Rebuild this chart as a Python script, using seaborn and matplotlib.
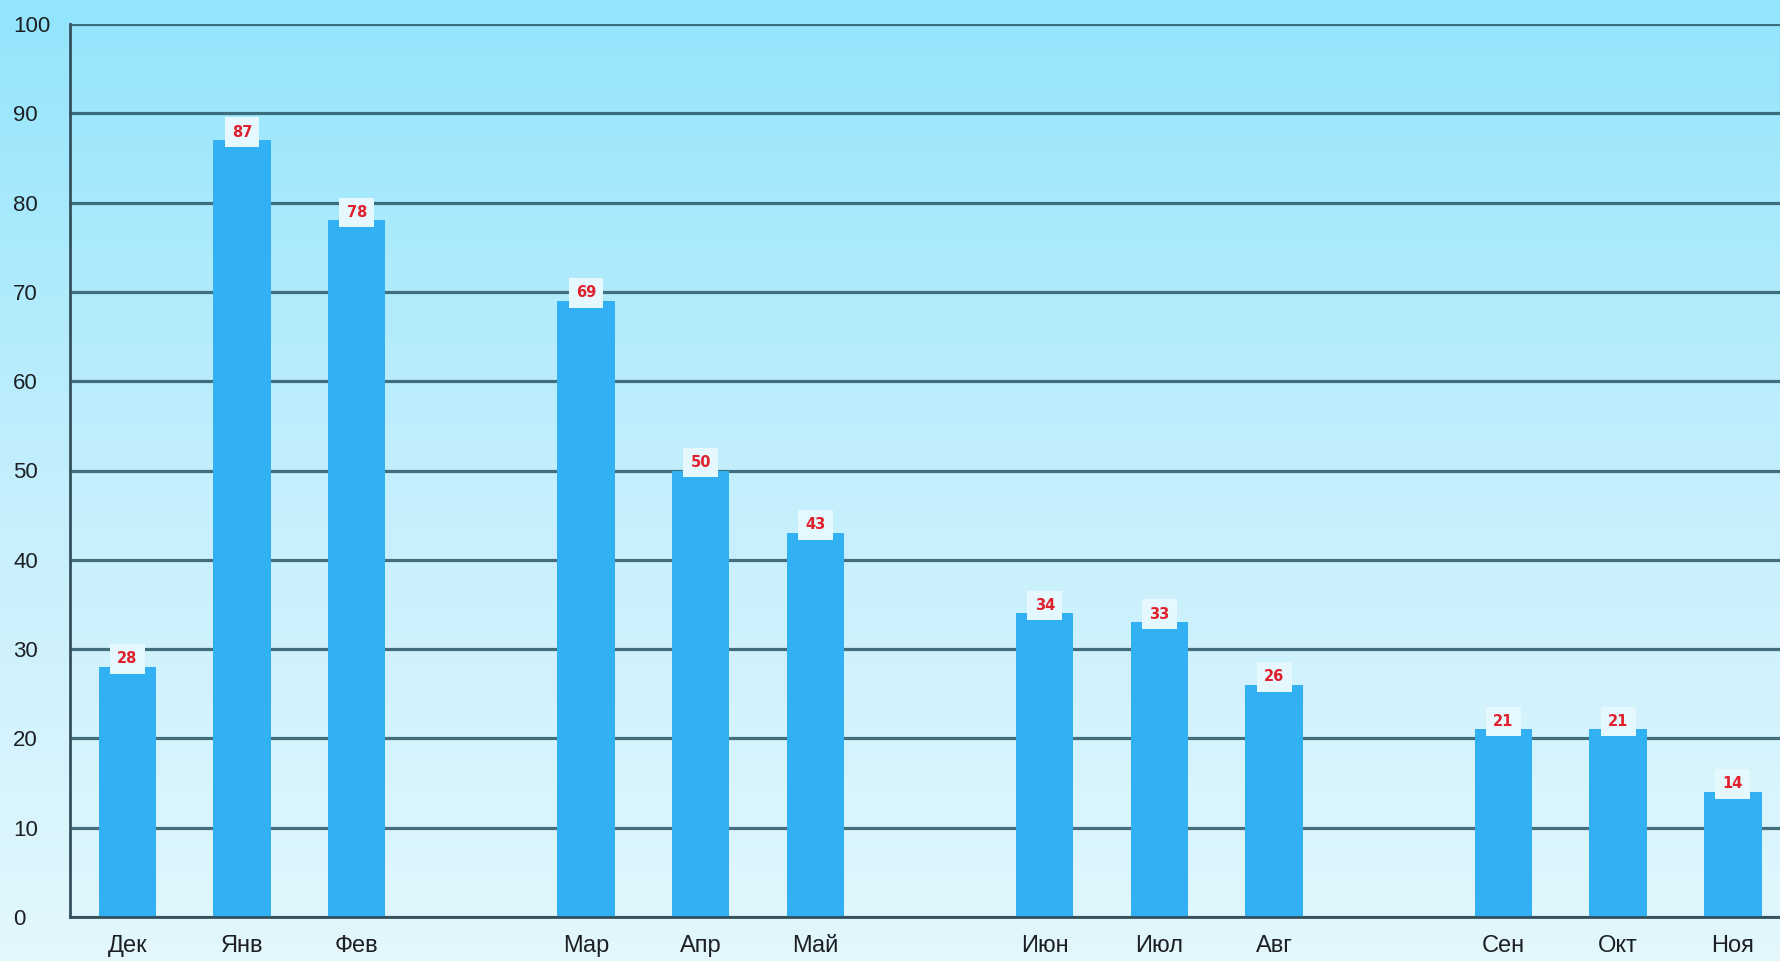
import numpy as np
import pandas as pd
import matplotlib
matplotlib.use("Agg")
import matplotlib.pyplot as plt
from matplotlib.colors import LinearSegmentedColormap
import seaborn as sns

# Monthly values, December through November
months = ["Дек", "Янв", "Фев", "Мар", "Апр", "Май",
          "Июн", "Июл", "Авг", "Сен", "Окт", "Ноя"]
values = [28, 87, 78, 69, 50, 43, 34, 33, 26, 21, 21, 14]

# Seasons are separated by an empty slot on the category axis
seasons = [["Дек", "Янв", "Фев"], ["Мар", "Апр", "Май"],
           ["Июн", "Июл", "Авг"], ["Сен", "Окт", "Ноя"]]
y_ticks = list(range(0, 101, 10))

order = []
for i, season in enumerate(seasons):
    order += season
    if i < len(seasons) - 1:
        order.append(" " * (i + 1))

df = pd.DataFrame({"month": months, "value": values})

sns.set_theme(style="white")
plt.rcParams["font.family"] = ["Liberation Sans", "DejaVu Sans"]

fig = plt.figure(figsize=(17.81, 9.61), dpi=100)

# Vertical sky-blue gradient behind everything
bg = fig.add_axes([0, 0, 1, 1], zorder=-1)
grad = np.linspace(0, 1, 256).reshape(-1, 1)
cmap = LinearSegmentedColormap.from_list("sky", ["#92e5fc", "#c4effc", "#e3f7fd"])
bg.imshow(grad, aspect="auto", cmap=cmap, extent=[0, 1, 0, 1], origin="upper")
bg.set_axis_off()

ax = fig.add_axes([70 / 1781, 44 / 961, 1 - 70 / 1781, (917 - 24) / 961])
ax.set_facecolor("none")

sns.barplot(data=df, x="month", y="value", order=order, color="#31b0f4",
            saturation=1, width=0.5, ax=ax, zorder=2,
            edgecolor="none", linewidth=0)

ax.set_xlim(-0.5, 14.42)
ax.set_ylim(0, 100)
ax.set_yticks(y_ticks)
ax.set_xlabel("")
ax.set_ylabel("")

ax.yaxis.grid(True, color="#33606e", linewidth=2.3, alpha=0.9)
ax.set_axisbelow(True)
for side in ["top", "right"]:
    ax.spines[side].set_visible(False)
for side in ["left", "bottom"]:
    ax.spines[side].set_color("#34505c")
    ax.spines[side].set_linewidth(2.0)

ax.tick_params(axis="both", length=0)
ax.tick_params(axis="y", pad=41, labelsize=16, labelcolor="#1c2024")
ax.tick_params(axis="x", pad=13, labelsize=17, labelcolor="#1c2024")
for lab in ax.get_yticklabels():
    lab.set_horizontalalignment("left")

# Value labels sitting on top of each bar, their plate dipping into the bar
for m, v in zip(months, values):
    x = order.index(m)
    ax.text(x, v + 0.9, str(v), ha="center", va="center",
            color="#e0202c", fontsize=10.5, fontweight="bold",
            family="DejaVu Sans", zorder=4,
            bbox=dict(boxstyle="square,pad=0.5", facecolor="#e4f8fe",
                      edgecolor="none"))

fig.savefig("out.png", dpi=100)
